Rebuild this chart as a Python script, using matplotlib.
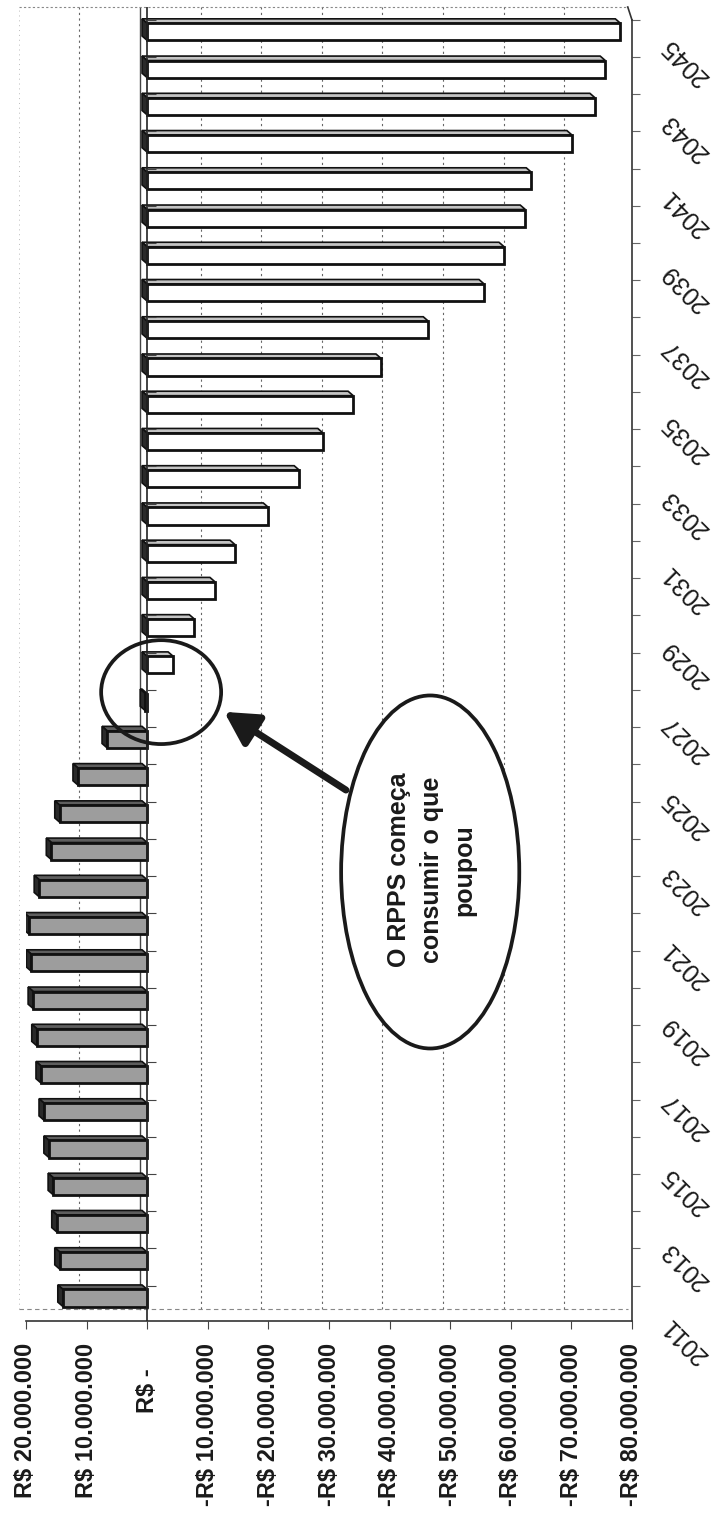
import numpy as np
import matplotlib
matplotlib.use('Agg')
import matplotlib.pyplot as plt
from matplotlib.patches import Polygon, Ellipse
from matplotlib.transforms import ScaledTranslation

plt.rcParams['font.family'] = ['Liberation Sans', 'DejaVu Sans']

# Data: yearly result of the RPPS fund (R$)
years = np.arange(2011, 2046)
values = np.array([
    13.9, 14.4, 14.9, 15.5, 16.2, 17.0, 17.5, 18.2, 18.8, 19.1,
    19.5, 17.8, 15.8, 14.4, 11.4, 6.6, 0.3, -4.3, -7.8, -11.2,
    -14.5, -20.0, -25.1, -29.0, -34.0, -38.6, -46.4, -55.6, -58.9, -62.4,
    -63.4, -70.1, -73.9, -75.6, -78.1]) * 1e6
value_ticks = np.arange(20, -90, -10) * 1e6
label_years = years[::2]
note_text = 'O RPPS começa\nconsumir o que\npoupou'


def brl(v):
    if v == 0:
        return 'R$ -'
    s = f'{abs(v):,.0f}'.replace(',', '.')
    return ('-' if v < 0 else '') + 'R$ ' + s


fig = plt.figure(figsize=(7.12, 15.24), dpi=100)
ax = fig.add_axes([26 / 712, 1 - 1321 / 1524, 606 / 712, 1314 / 1524])
ax.set_xlim(20e6, -80e6)
ax.set_ylim(2010.382, 2045.668)
y_top = 2045.668
y_floor = 2010.70

# year labels on a slightly different scale (front plane perspective)
ax2 = ax.twinx()
ax2.set_ylim(2011.264, 2045.925)
for s in ax2.spines.values():
    s.set_visible(False)
ax2.set_yticks(label_years)
ax2.set_yticklabels([str(y) for y in label_years], rotation=135, rotation_mode='anchor',
                    ha='right', va='center', fontsize=18, color='#1a1a1a')
ax2.tick_params(axis='y', length=0, pad=24)

# 3D look: depth shifts up and toward the positive side
dx = 0.85e6
dy = 0.12
hh = 0.23

# back wall gridlines
for t in value_ticks[:-1]:
    if t == 0:
        ax.plot([t + 1.2e6] * 2, [y_floor, y_top], color='#444', lw=1.0, zorder=1)
    elif t == 20e6:
        ax.plot([t + 1.2e6] * 2, [y_floor, y_top], color='#bbb', lw=0.7,
                ls=(0, (1, 4)), zorder=1, clip_on=False)
    else:
        ax.plot([t + 1.2e6] * 2, [y_floor, y_top], color='#666', lw=0.8,
                ls=(0, (2, 3)), zorder=1)
ax.plot([21.2e6, -79.3e6], [y_top, y_top], color='#888', lw=0.8, ls=(0, (2, 2)),
        clip_on=False, zorder=1)
ax.plot([21.2e6, -79.3e6], [y_floor, y_floor], color='#888', lw=0.8,
        ls=(0, (4, 3)), clip_on=False, zorder=1)

# bars
for yr, v in zip(years, values):
    pos = v >= 0
    front = '#9d9d9d' if pos else 'white'
    topc = '#5e5e5e' if pos else '#c4c4c4'
    top = Polygon([(0, yr + hh), (v, yr + hh), (v + dx, yr + hh + dy), (dx, yr + hh + dy)],
                  closed=True, facecolor=topc, edgecolor='#111', lw=1.2, zorder=3)
    end = max(v, 0)
    side = Polygon([(end, yr - hh), (end, yr + hh), (end + dx, yr + hh + dy),
                    (end + dx, yr - hh + dy)],
                   closed=True, facecolor='#2a2a2a', edgecolor='#111', lw=1.2, zorder=3)
    ax.add_patch(top)
    ax.add_patch(side)
    ax.barh(yr, v, height=2 * hh, color=front, edgecolor='#111', linewidth=2.0, zorder=4)

# category axis at zero with its small ticks
ax.axvline(0, color='#222', lw=1.2, zorder=5)
ax.hlines(years + 0.33, 0, -1.5e6, color='#444', lw=0.8, zorder=5)

# spines and ticks
for s in ['top', 'left']:
    ax.spines[s].set_visible(False)
ax.spines['bottom'].set_color('#333')
ax.spines['bottom'].set_linewidth(1.2)
ax.spines['right'].set_color('#333')
ax.spines['right'].set_linewidth(1.2)
ax.spines['right'].set_bounds(2010.382, 2045.318)
ax.plot([-80e6, -79.3e6], [2045.318, y_top], color='#333', lw=1.2, clip_on=False)

ax.set_xticks(value_ticks)
ax.set_xticklabels([brl(v) for v in value_ticks], rotation=90, fontsize=17,
                   fontweight='bold', color='#1a1a1a')
ax.tick_params(axis='x', direction='out', length=6, width=0.8, color='#444', pad=10)
zero_lab = ax.get_xticklabels()[2]
zero_lab.set_transform(zero_lab.get_transform() +
                       ScaledTranslation(0, -0.25, fig.dpi_scale_trans))

ax.set_yticks([])
ax.set_yticks(years + 0.33, minor=True)
ax.yaxis.set_ticks_position('right')
ax.tick_params(axis='y', which='minor', left=False, right=True, labelleft=False,
               direction='out', length=6, width=0.8, color='#666')

# annotation
ax.add_patch(Ellipse((-2.3e6, 2027.27), 19.8e6, 2.79, fill=False, edgecolor='#1a1a1a',
                     lw=2.7, zorder=8))
ax.add_patch(Ellipse((-46.7e6, 2022.44), 29.4e6, 9.48, facecolor='white',
                     edgecolor='#1a1a1a', lw=2.7, zorder=8))
ax.text(-47.0e6, 2022.5, note_text, rotation=90, ha='center', va='center',
        multialignment='center', fontsize=18, fontweight='bold', color='#1a1a1a',
        linespacing=1.45, zorder=9)
ax.annotate('', xy=(-12.7e6, 2026.74), xytext=(-32.8e6, 2024.64),
            arrowprops=dict(arrowstyle='-|>,head_length=1.0,head_width=0.55',
                            lw=5, color='#1a1a1a', mutation_scale=20,
                            shrinkA=0, shrinkB=0), zorder=9)

fig.savefig('out.png', dpi=100, facecolor='white')
